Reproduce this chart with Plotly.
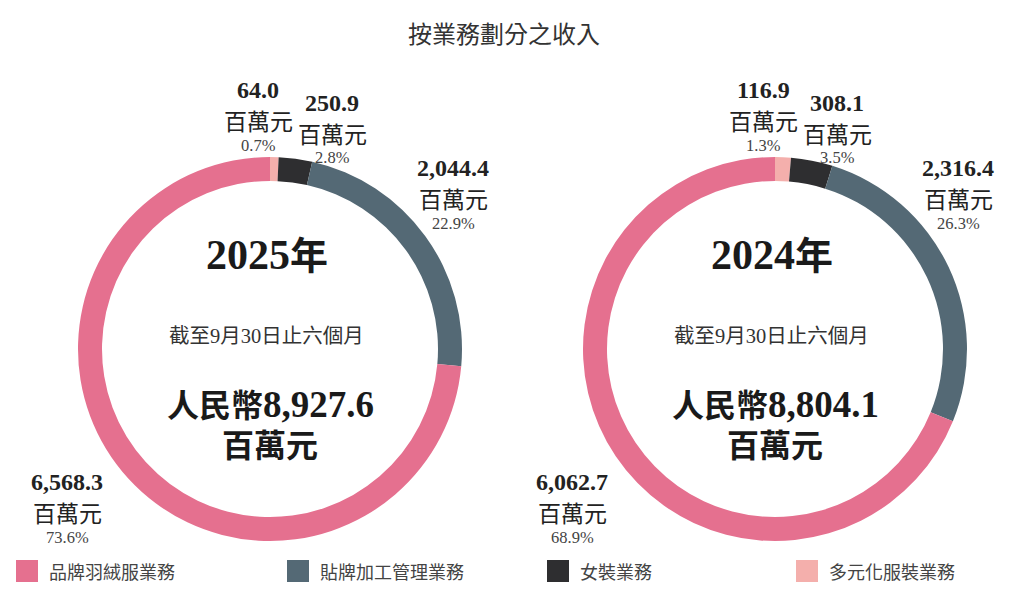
import plotly.graph_objs as go

# the page puts the plot 8px in from the top-left corner of the window
PAGE = 8
W, H = 1032 - 2 * PAGE, 604 - 2 * PAGE

categories = ['品牌羽絨服業務', '貼牌加工管理業務', '女裝業務', '多元化服裝業務']
colors = ['#E5708F', '#546975', '#2E2E30', '#F4AFAC']
years = ['2025', '2024']
revenue_2025 = [6568.3, 2044.4, 250.9, 64.0]
revenue_2024 = [6062.7, 2316.4, 308.1, 116.9]
share_2025 = [73.6, 22.9, 2.8, 0.7]
share_2024 = [68.9, 26.3, 3.5, 1.3]
totals = [8927.6, 8804.1]

SERIF = 'Liberation Serif, Noto Sans CJK TC'
CJK = 'Noto Sans CJK TC'


def px(x, y):
    # window pixel -> paper fraction
    return (x - PAGE) / W, 1 - (y - PAGE) / H


def note(x, y, text, size, family, color='#222222', anchor='center'):
    ax, ay = px(x, y)
    return dict(x=ax, y=ay, xref='paper', yref='paper', text=text,
                showarrow=False, xanchor=anchor, yanchor='middle',
                font=dict(size=size, family=family, color=color))


# donut centres and ring radius (window pixels)
centres = [(270, 349), (775, 349)]
radius = 192
# label offsets from the donut centre, per category
label_offsets = [(-203, 133), (183, -181), (62, -253), (-12, -259)]

fig = go.Figure()
annotations = []

for i, (vals, shares) in enumerate([(revenue_2025, share_2025),
                                    (revenue_2024, share_2024)]):
    cx, cy = centres[i]
    x0, y1 = px(cx - radius, cy - radius)
    x1, y0 = px(cx + radius, cy + radius)
    # slices run clockwise from 12 o'clock, smallest business first
    fig.add_trace(go.Pie(
        labels=categories[::-1],
        values=vals[::-1],
        hole=0.875,
        sort=False,
        direction='clockwise',
        rotation=0,
        marker=dict(colors=colors[::-1], line=dict(width=0)),
        textinfo='none',
        hoverinfo='label+value+percent',
        showlegend=False,
        domain=dict(x=[x0, x1], y=[y0, y1]),
    ))
    for k in range(len(categories)):
        dx, dy = label_offsets[k]
        lx, ly = cx + dx, cy + dy
        if k == 2:
            ly += 7
        annotations.append(note(lx, ly, '<b>{:,.1f}</b>'.format(vals[k]), 24, SERIF))
        annotations.append(note(lx, ly + 30, '百萬元', 23, CJK))
        annotations.append(note(lx, ly + 55, '{:.1f}%'.format(shares[k]), 16.5,
                                'Liberation Serif', '#444444'))
    annotations.append(note(cx - 3, cy - 97,
                            '<b>' + years[i] + '<span style="font-family:Noto Sans CJK TC;font-size:38px">年</span></b>',
                            42, SERIF, '#1a1a1a'))
    annotations.append(note(cx - 4, cy - 13, '截至9月30日止六個月', 20.5, SERIF, '#333333'))
    annotations.append(note(cx, cy + 54,
                            '<b>人民幣<span style="font-family:Liberation Serif;font-size:37px">{:,.1f}</span></b>'.format(totals[i]),
                            32, CJK, '#1a1a1a'))
    annotations.append(note(cx, cy + 94, '<b>百萬元</b>', 32, CJK, '#1a1a1a'))

# title
annotations.append(note(504, 32, '按業務劃分之收入', 24, CJK, '#333333'))

# legend drawn as squares + text
legend_x = [16, 287, 547, 796]
shapes = []
for k, name in enumerate(categories):
    lx0, ly1 = px(legend_x[k], 560)
    lx1, ly0 = px(legend_x[k] + 22, 582)
    shapes.append(dict(type='rect', xref='paper', yref='paper',
                       x0=lx0, x1=lx1, y0=ly0, y1=ly1,
                       fillcolor=colors[k], line=dict(width=0)))
    annotations.append(note(legend_x[k] + 31, 571, name, 18, CJK, '#444444', anchor='left'))

fig.update_layout(
    width=W, height=H,
    margin=dict(l=0, r=0, t=0, b=0),
    paper_bgcolor='white',
    plot_bgcolor='white',
    annotations=annotations,
    shapes=shapes,
)

fig.write_html('out.html')
